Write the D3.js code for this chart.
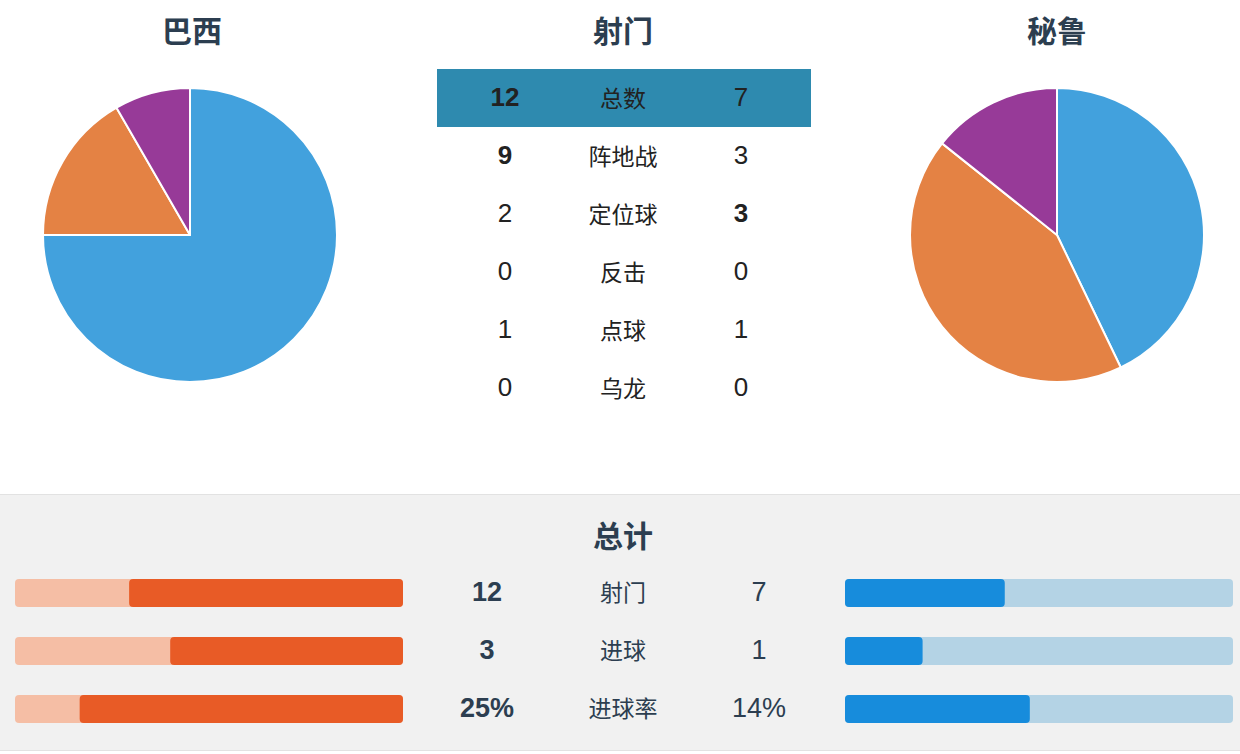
<!DOCTYPE html>
<html><head><meta charset="utf-8">
<script src="https://cdn.jsdelivr.net/npm/d3@7"></script>
<style>
html,body{margin:0;padding:0;background:#fff;}
svg{display:block;font-family:"Liberation Sans","Noto Sans CJK SC",Arial,sans-serif;}
</style></head>
<body><svg id="c" width="1240" height="754"></svg>
<script>
const teams = ["巴西", "秘鲁"];
const shotTitle = "射门";
const shotCategories = ["总数", "阵地战", "定位球", "反击", "点球", "乌龙"];
const homeShots = [12, 9, 2, 0, 1, 0];
const awayShots = [7, 3, 3, 0, 1, 0];
const pieCategories = ["阵地战", "定位球", "点球"];
const homePie = [9, 2, 1];
const awayPie = [3, 3, 1];
const pieColors = ["#42a1dd", "#e48244", "#973a98"];
const totalTitle = "总计";
const totalCategories = ["射门", "进球", "进球率"];
const homeTotals = [12, 3, 25];
const awayTotals = [7, 1, 14.29];
const totalSuffix = ["", "", "%"];
const barMax = [17, 5, 30];

const svg = d3.select("#c");
const textColor = "#2c3e50";
const cjk = "'Noto Sans CJK SC','Liberation Sans',sans-serif";

// titles
svg.selectAll("text.team").data([
  {t: teams[0], x: 192}, {t: shotTitle, x: 623}, {t: teams[1], x: 1057}
]).join("text").attr("class","team")
  .attr("x", d => d.x).attr("y", 29).attr("text-anchor","middle").attr("dominant-baseline","central")
  .style("font-family", cjk).style("font-size","30px").style("font-weight","bold").style("fill", textColor)
  .text(d => d.t);

// pies
const pie = d3.pie().sort(null).value(d => d);
const arc = d3.arc().innerRadius(0).outerRadius(147);
[[homePie, 190], [awayPie, 1057]].forEach(([vals, cx]) => {
  const g = svg.append("g").attr("transform", `translate(${cx},235)`);
  g.selectAll("path").data(pie(vals)).join("path")
    .attr("d", arc).attr("fill", (d,i) => pieColors[i])
    .attr("stroke", "#fff").attr("stroke-width", 2).attr("stroke-linejoin","round");
});

// shots table
const rowY = d3.scaleBand().domain(shotCategories.map((d,i)=>i)).range([69, 69 + 58*6]);
svg.append("rect").attr("x", 437).attr("y", rowY(0)).attr("width", 374).attr("height", rowY.bandwidth())
  .attr("fill", "#2e8aaf");
const rows = svg.selectAll("g.row").data(shotCategories).join("g").attr("class","row")
  .attr("transform", (d,i) => `translate(0,${rowY(i) + rowY.bandwidth()/2})`);
rows.append("text").attr("x", 505).attr("y", -1).attr("text-anchor","middle").attr("dominant-baseline","central")
  .style("font-size","26px").style("fill","#222")
  .style("font-weight", (d,i) => homeShots[i] > awayShots[i] ? "bold" : "normal")
  .text((d,i) => homeShots[i]);
rows.append("text").attr("x", 623).attr("y", -1).attr("text-anchor","middle").attr("dominant-baseline","central")
  .style("font-family", cjk).style("font-size","23px").style("fill","#222")
  .text(d => d);
rows.append("text").attr("x", 741).attr("y", -1).attr("text-anchor","middle").attr("dominant-baseline","central")
  .style("font-size","26px").style("fill","#222")
  .style("font-weight", (d,i) => awayShots[i] > homeShots[i] ? "bold" : "normal")
  .text((d,i) => awayShots[i]);

// totals panel
svg.append("rect").attr("x", 0).attr("y", 494).attr("width", 1240).attr("height", 256).attr("fill", "#f1f1f1");
svg.append("line").attr("x1",0).attr("x2",1240).attr("y1",494.5).attr("y2",494.5).attr("stroke","#e2e2e2");
svg.append("line").attr("x1",0).attr("x2",1240).attr("y1",750.5).attr("y2",750.5).attr("stroke","#e2e2e2");
svg.append("text").attr("x", 623).attr("y", 534).attr("text-anchor","middle").attr("dominant-baseline","central")
  .style("font-family", cjk).style("font-size","30px").style("font-weight","bold").style("fill", textColor)
  .text(totalTitle);

const totY = d3.scaleBand().domain(totalCategories.map((d,i)=>i)).range([579 - 15, 579 - 15 + 58*3]);
const barH = 28;
const trows = svg.selectAll("g.trow").data(totalCategories).join("g").attr("class","trow")
  .attr("transform", (d,i) => `translate(0,${totY(i) + 15})`);

trows.each(function(d, i) {
  const g = d3.select(this);
  const hx = d3.scaleLinear().domain([0, barMax[i]]).range([0, 388]);
  // home: anchored on right
  g.append("rect").attr("x", 15).attr("y", 0).attr("width", 388).attr("height", barH).attr("rx", 4).attr("fill", "#f5bea5");
  g.append("rect").attr("x", 403 - hx(homeTotals[i])).attr("y", 0).attr("width", hx(homeTotals[i])).attr("height", barH).attr("rx", 4).attr("fill", "#e85b26");
  // away: anchored on left
  g.append("rect").attr("x", 845).attr("y", 0).attr("width", 388).attr("height", barH).attr("rx", 4).attr("fill", "#b4d3e5");
  g.append("rect").attr("x", 845).attr("y", 0).attr("width", hx(awayTotals[i])).attr("height", barH).attr("rx", 4).attr("fill", "#178cdc");
  g.append("text").attr("x", 487).attr("y", barH/2 - 1).attr("text-anchor","middle").attr("dominant-baseline","central")
    .style("font-size","27px").style("font-weight","bold").style("fill", textColor)
    .text(Math.round(homeTotals[i]) + totalSuffix[i]);
  g.append("text").attr("x", 623).attr("y", barH/2 - 2).attr("text-anchor","middle").attr("dominant-baseline","central")
    .style("font-family", cjk).style("font-size","23px").style("fill", textColor)
    .text(d);
  g.append("text").attr("x", 759).attr("y", barH/2 - 1).attr("text-anchor","middle").attr("dominant-baseline","central")
    .style("font-size","27px").style("fill", textColor)
    .text(Math.round(awayTotals[i]) + totalSuffix[i]);
});
</script></body></html>
